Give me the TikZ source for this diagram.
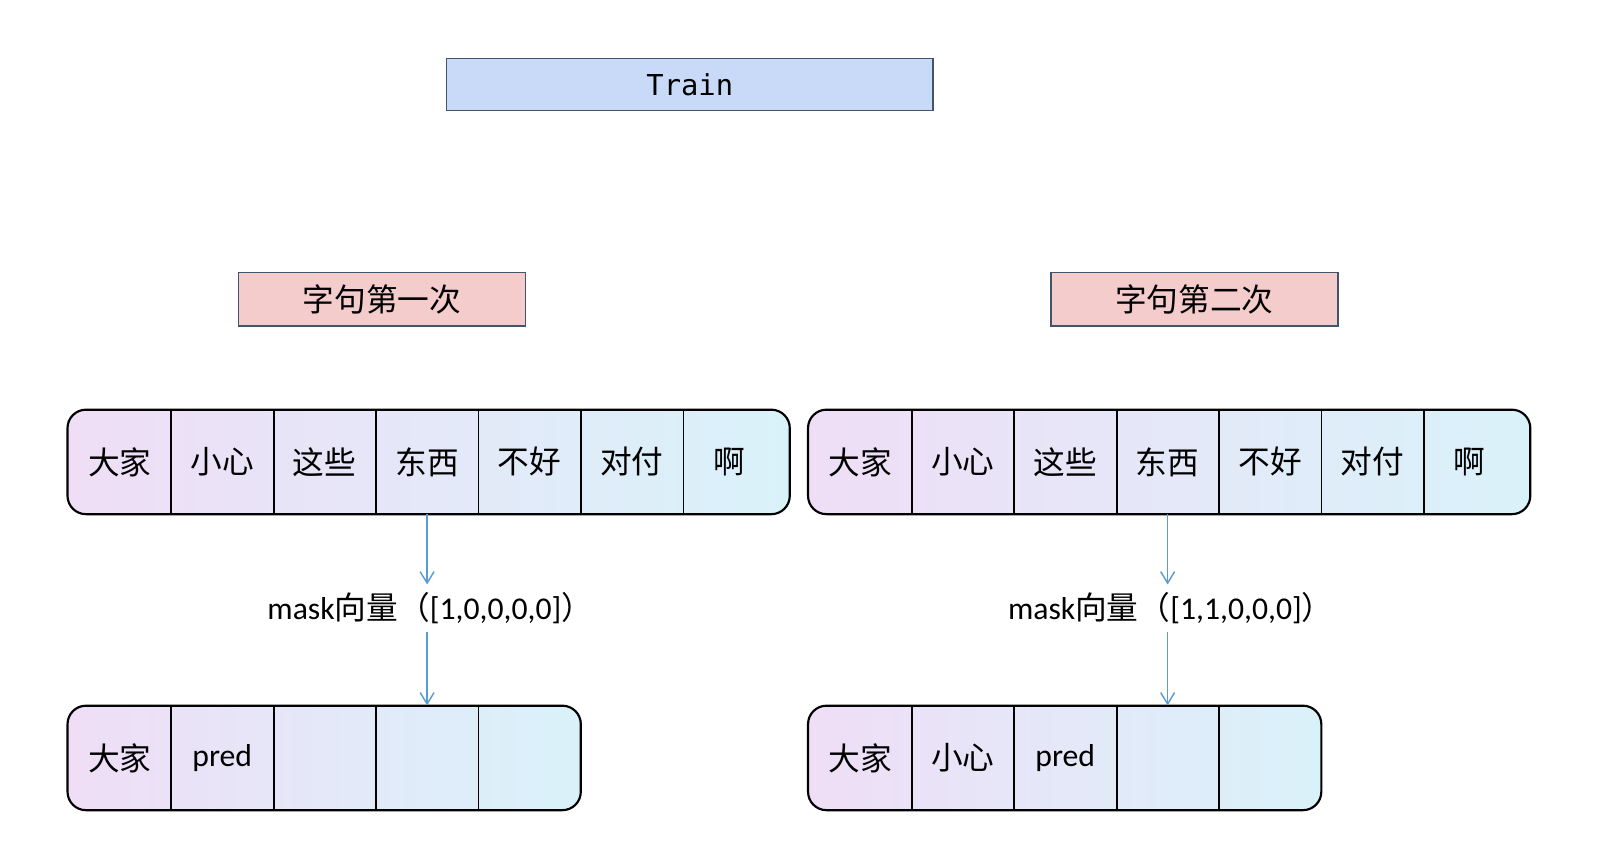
\documentclass[tikz,border=0pt]{standalone}
\usepackage{fontspec}
\setmainfont{Carlito}
\newfontfamily\cjk{Noto Sans CJK SC}
\newfontfamily\monof{DejaVu Sans Mono}
\usetikzlibrary{arrows.meta}
\definecolor{trainblue}{HTML}{C9DAF8}
\definecolor{framegray}{HTML}{44546A}
\definecolor{pinkbox}{HTML}{F4CCCC}
\definecolor{arrowblue}{HTML}{5B9BD5}
\definecolor{rowleft}{HTML}{EFDEF6}
\definecolor{rowright}{HTML}{D9F2FA}
\begin{document}
\begin{tikzpicture}[x=0.025cm,y=-0.025cm]
\tikzset{title style/.style={draw=framegray, line width=1.2pt, fill=trainblue, minimum width=11.875cm, minimum height=1.275cm, font=\monof\fontsize{20}{24}\selectfont},
         pass style/.style={draw=framegray, line width=1.2pt, fill=pinkbox, minimum width=7cm, minimum height=1.3cm, font=\cjk\fontsize{22}{26}\selectfont},
         row style/.style={draw=black, line width=1.5pt, rounded corners=0.45cm, left color=rowleft, right color=rowright, minimum height=2.55cm, inner sep=0pt},
         cell style/.style={minimum width=2.5cm, minimum height=2.55cm, inner sep=0pt, font=\cjk\fontsize{22}{26}\selectfont},
         mask style/.style={inner xsep=2pt, inner ysep=5.5pt, font=\fontsize{22}{26}\selectfont},
         flow style/.style={draw=arrowblue, line width=1pt, -{Straight Barb[length=2.8mm,width=3.4mm]}}}
\useasboundingbox (0,0) rectangle (1568,822);

\node[title style] at (673.5, 82.5)  (train)  {Train};
\node[pass style]  at (373, 292)     (pass1)  {字句第一次};
\node[pass style]  at (1166, 292)    (pass2)  {字句第二次};

\node[row style, minimum width=17.625cm] at (418.5, 451)  (rowA) {};
\node[row style, minimum width=17.625cm] at (1141.5, 451) (rowB) {};
\node[row style, minimum width=12.525cm] at (316.5, 740)  (rowC) {};
\node[row style, minimum width=12.525cm] at (1039.5, 740) (rowD) {};

\node[cell style] at (117, 451)  (a1) {大家};
\node[cell style] at (217, 451)  (a2) {小心};
\node[cell style] at (317, 451)  (a3) {这些};
\node[cell style] at (417, 451)  (a4) {东西};
\node[cell style] at (517, 451)  (a5) {不好};
\node[cell style] at (617, 451)  (a6) {对付};
\node[cell style] at (712, 451)  (a7) {啊};

\node[cell style] at (840, 451)  (b1) {大家};
\node[cell style] at (940, 451)  (b2) {小心};
\node[cell style] at (1040, 451) (b3) {这些};
\node[cell style] at (1140, 451) (b4) {东西};
\node[cell style] at (1240, 451) (b5) {不好};
\node[cell style] at (1340, 451) (b6) {对付};
\node[cell style] at (1435, 451) (b7) {啊};

\node[cell style] at (117, 740)  (c1) {大家};
\node[cell style] at (217, 740)  (c2) {\rmfamily pred};
\node[cell style] at (317, 740)  (c3) {};
\node[cell style] at (417, 740)  (c4) {};
\node[cell style] at (517, 740)  (c5) {};

\node[cell style] at (840, 740)  (d1) {大家};
\node[cell style] at (940, 740)  (d2) {小心};
\node[cell style] at (1040, 740) (d3) {\rmfamily pred};
\node[cell style] at (1140, 740) (d4) {};
\node[cell style] at (1240, 740) (d5) {};

\node[mask style] at (420, 594)  (m1) {mask{\cjk 向量（}[1,0,0,0,0]{\cjk ）}};
\node[mask style] at (1143, 594) (m2) {mask{\cjk 向量（}[1,1,0,0,0]{\cjk ）}};

\draw[line width=1.2pt]
            (a1.north east) edge (a1.south east)
            (a2.north east) edge (a2.south east)
            (a3.north east) edge (a3.south east)
            (a4.north east) edge (a4.south east)
            (a5.north east) edge (a5.south east)
            (a6.north east) edge (a6.south east)
            (b1.north east) edge (b1.south east)
            (b2.north east) edge (b2.south east)
            (b3.north east) edge (b3.south east)
            (b4.north east) edge (b4.south east)
            (b5.north east) edge (b5.south east)
            (b6.north east) edge (b6.south east)
            (c1.north east) edge (c1.south east)
            (c2.north east) edge (c2.south east)
            (c3.north east) edge (c3.south east)
            (c4.north east) edge (c4.south east)
            (d1.north east) edge (d1.south east)
            (d2.north east) edge (d2.south east)
            (d3.north east) edge (d3.south east)
            (d4.north east) edge (d4.south east)
;

\draw[flow style] (a4.south) -- (a4.south |- m1.north);
\draw[flow style] (m1.south -| c4.north) -- (c4.north);
\draw[flow style] (b4.south) -- (b4.south |- m2.north);
\draw[flow style] (m2.south -| d4.north) -- (d4.north);
\end{tikzpicture}
\end{document}
